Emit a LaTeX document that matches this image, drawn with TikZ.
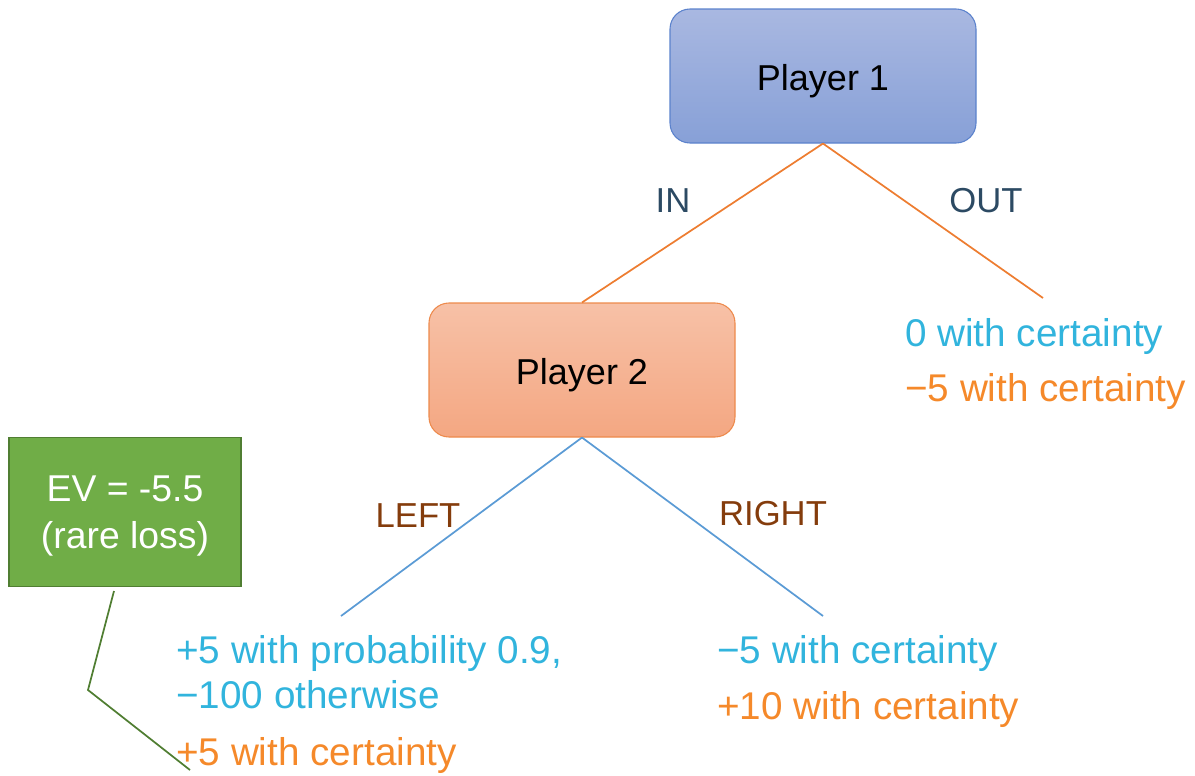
\documentclass[tikz,border=0pt]{standalone}
\usepackage{fontspec}
\setmainfont{Liberation Sans}
\begin{document}
\begin{tikzpicture}[x=0.75pt,y=-0.75pt,
  player/.style={draw, rounded corners=15pt, minimum width=229.5pt, minimum height=100.5pt,
    font=\fontsize{27}{32}\selectfont, text=black, line width=0.8pt,
    text height=21pt, text depth=0pt},
  pone/.style={player, draw=p1edge, top color=p1top, bottom color=p1bot},
  ptwo/.style={player, draw=p2edge, top color=p2top, bottom color=p2bot},
  evbox/.style={draw=evedge, fill=evfill, line width=1.2pt, minimum width=174pt, minimum height=112pt},
  evtext/.style={text=white, align=center, font=\fontsize{28}{35}\selectfont, inner sep=0pt},
  move/.style={font=\fontsize{26}{30}\selectfont, inner sep=0pt},
  payoff/.style={font=\fontsize{29}{34}\selectfont, inner sep=0pt, anchor=base west},
  upper/.style={draw=edgeorange, line width=1.3pt},
  lower/.style={draw=edgeblue, line width=1.3pt},
  pointer/.style={draw=evedge, line width=1.3pt}
]
\definecolor{p1top}{HTML}{A9B8E1}
\definecolor{p1bot}{HTML}{87A0D7}
\definecolor{p1edge}{HTML}{5B82CC}
\definecolor{p2top}{HTML}{F7C1A7}
\definecolor{p2bot}{HTML}{F4A782}
\definecolor{p2edge}{HTML}{ED8A4C}
\definecolor{evfill}{HTML}{70AD47}
\definecolor{evedge}{HTML}{507E32}
\definecolor{edgeorange}{HTML}{ED7D31}
\definecolor{edgeblue}{HTML}{5B9BD5}
\definecolor{payblue}{HTML}{31B4DD}
\definecolor{payorange}{HTML}{F5892A}
\definecolor{slate}{HTML}{2C4A63}
\definecolor{brown}{HTML}{843C0C}

\useasboundingbox (0,0) rectangle (1195,775);

% decision nodes
\node[pone] (p1) at (823,76) {Player 1};
\node[ptwo] (p2) at (582,370) {Player 2};

% free ends of the branches
\coordinate (outend) at (1043,298);
\coordinate (leftend) at (341,616);
\coordinate (rightend) at (823,616);

% branches
\draw[upper] (p1.south) -- (p2.north);
\draw[upper] (p1.south) -- (outend);
\draw[lower] (p2.south) -- (leftend);
\draw[lower] (p2.south) -- (rightend);

% move labels
\node[move, text=slate, anchor=base] (in) at (673,212) {IN};
\node[move, text=slate, anchor=base] (out) at (986,212) {OUT};
\node[move, text=brown, anchor=base] (left) at (418,527) {LEFT};
\node[move, text=brown, anchor=base] (right) at (773,525) {RIGHT};

% payoffs
\node[payoff, text=payblue] (outp1) at (905,346) {0 with certainty};
\node[payoff, text=payorange] (outp2) at (905,401) {−5 with certainty};
\node[payoff, text=payblue] (leftp1a) at (176,663) {+5 with probability 0.9,};
\node[payoff, text=payblue] (leftp1b) at (176,708) {−100 otherwise};
\node[payoff, text=payorange] (leftp2) at (176,765) {+5 with certainty};
\node[payoff, text=payblue] (rightp1) at (717,663) {−5 with certainty};
\node[payoff, text=payorange] (rightp2) at (717,719) {+10 with certainty};

% expected-value callout
\node[evbox] (ev) at (125,512) {};
\node[evtext] (evlabel) at (125,516) {EV = -5.5\\(rare loss)};
\coordinate (evfoot) at (114,591);
\coordinate (evbend) at (88,690);
\coordinate (evtip) at (190,770);
\draw[pointer] (evfoot) -- (evbend) -- (evtip);
\end{tikzpicture}
\end{document}
